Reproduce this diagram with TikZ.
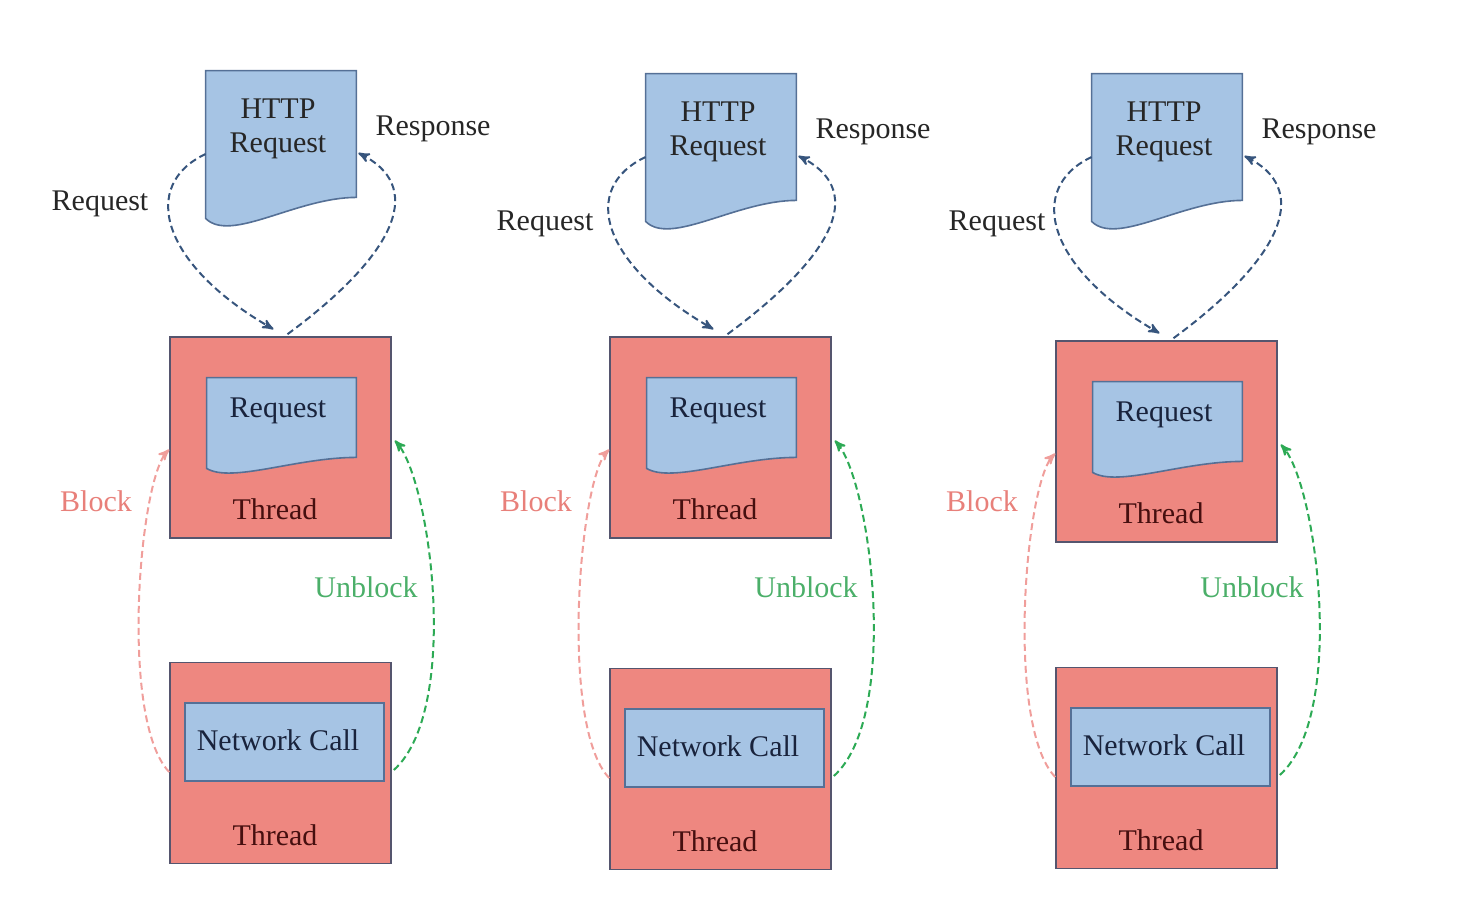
\documentclass[tikz,border=0pt]{standalone}
\usepackage{fontspec}
\setmainfont{Liberation Serif}
\usetikzlibrary{arrows,calc}

\definecolor{docblue}{RGB}{166,196,228}
\definecolor{docedge}{RGB}{85,112,150}
\definecolor{threadred}{RGB}{238,135,128}
\definecolor{threadedge}{RGB}{85,85,110}
\definecolor{intext}{RGB}{25,35,60}
\definecolor{thtext}{RGB}{70,15,15}
\definecolor{reqcol}{RGB}{55,85,125}
\definecolor{blockcol}{RGB}{240,158,155}
\definecolor{blocktext}{RGB}{232,128,122}
\definecolor{unblockcol}{RGB}{45,170,85}
\definecolor{unblocktext}{RGB}{75,175,105}

\begin{document}
\begin{tikzpicture}[x=0.5pt,y=-0.5pt,>=stealth',
  font=\fontsize{15}{17}\selectfont,
  doc/.style={inner sep=0pt},
  docline/.style={draw=docedge,fill=docblue,line width=0.8pt},
  thread/.style={draw=threadedge,fill=threadred,line width=0.8pt,inner sep=0pt,
    minimum width=110.5pt,minimum height=100.5pt},
  netbox/.style={draw=docedge,fill=docblue,line width=0.8pt,inner sep=0pt,
    minimum width=99.5pt,minimum height=39pt},
  txt/.style={inner sep=0pt,text=black!85},
  intxt/.style={inner sep=0pt,text=intext},
  thtxt/.style={inner sep=0pt,text=thtext},
  flow/.style={->,dashed,dash pattern=on 3.5pt off 2pt,line width=1pt},
  blocktxt/.style={inner sep=0pt,text=blocktext},
  unblocktxt/.style={inner sep=0pt,text=unblocktext}]
\useasboundingbox (0,0) rectangle (1460,912);

\foreach \c/\dx/\dt/\dq/\dl/\dm/\db in {1/0/0/0/0/0/0,2/440/3/5/20/0/6,3/886/3/11/20/4/5}{
\begin{scope}[shift={(\dx,0)}]
% http request
\node[doc,minimum width=75pt,minimum height=63pt] (http\c) at (281,134+\dt) {};
\draw[docline] (http\c.north west) -- (http\c.north east) -- (http\c.south east)
  .. controls +(-60,0) and +(25,25) .. ($(http\c.south west)+(0,21)$) -- cycle;
\node[txt,align=center] (httptxt\c) at (278,129+\dt) {HTTP\\Request};
\node[txt] (resp\c) at (433,129+\dt) {Response};
\node[txt] (reql\c) at (100+\dq,204+\dl) {Request};

% thread with the request
\node[thread] (ta\c) at (280.5,437.5+\dm) {};
\node[doc,minimum width=74.5pt,minimum height=39.5pt] (rq\c) at (281.5,417.5+\dm) {};
\draw[docline] (rq\c.north west) -- (rq\c.north east) -- (rq\c.south east)
  .. controls +(-60,0) and +(25,15) .. ($(rq\c.south west)+(0,11)$) -- cycle;
\node[intxt] (rqtxt\c) at (278,411+\dm) {Request};
\node[thtxt] (tatxt\c) at (275,509+\dm) {Thread};

% thread with the network call
\node[thread] (tb\c) at (280.5,763+\db) {};
\node[netbox] (net\c) at (284.5,742+\db) {};
\node[intxt] (nettxt\c) at (278,740+\db) {Network Call};
\node[thtxt] (tbtxt\c) at (275,835+\db) {Thread};

% arrows
\draw[flow,reqcol] ($(http\c.west)+(0,20)$) .. controls +(-66,31) and +(-113,-65) .. ($(ta\c.north)+(-7,-7)$);
\draw[flow,reqcol] ($(ta\c.north)+(7,-2)$) .. controls +(115,-85) and +(64,32) .. ($(http\c.east)+(2,19)$);
\draw[flow,blockcol] ($(tb\c.west)+(0,9)$) .. controls +(-50,-52) and +(-30,30) .. ($(ta\c.west)+(0,12)$);
\draw[flow,unblockcol] ($(tb\c.east)+(2,7)$) .. controls +(67,-60) and +(36,40) .. ($(ta\c.east)+(3,3)$);
\node[blocktxt] (blk\c) at (96,501) {Block};
\node[unblocktxt] (unb\c) at (366,587) {Unblock};
\end{scope}}

\end{tikzpicture}
\end{document}
